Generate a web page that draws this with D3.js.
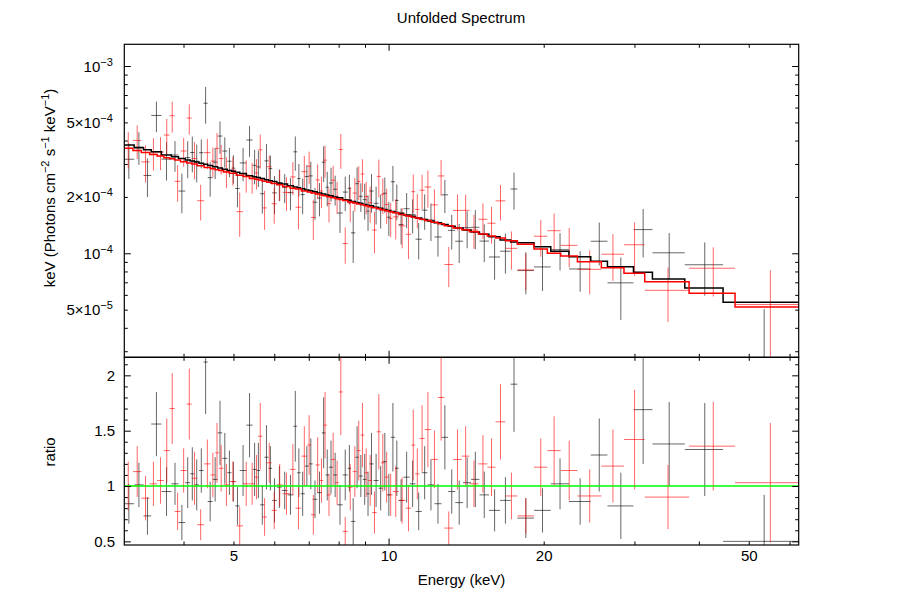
<!DOCTYPE html>
<html>
<head>
<meta charset="utf-8">
<script src="https://cdn.jsdelivr.net/npm/d3@7"></script>
<style>
  body { margin: 0; background: #fff; }
  svg { font-family: "Liberation Sans", Arial, Helvetica, sans-serif; }
</style>
</head>
<body>
<script>
// energy bin edges (keV), ratio data/model, ratio error, model (x 1e-4 keV Photons cm^-2 s^-1 keV^-1)
var blackEdges = [3.058, 3.208, 3.346, 3.463, 3.625, 3.790, 3.911, 4.030, 4.121, 4.199,
    4.287, 4.374, 4.456, 4.556, 4.659, 4.757, 4.864, 4.957, 5.039, 5.142,
    5.297, 5.448, 5.543, 5.635, 5.741, 5.849, 5.945, 6.070, 6.207, 6.367,
    6.535, 6.647, 6.748, 6.876, 7.005, 7.125, 7.270, 7.417, 7.546, 7.660,
    7.803, 7.949, 8.147, 8.331, 8.457, 8.617, 8.759, 8.910, 9.065, 9.180,
    9.352, 9.563, 9.742, 9.924, 10.10, 10.29, 10.46, 10.69, 10.99, 11.28,
    11.60, 11.90, 12.27, 12.67, 13.05, 13.47, 13.95, 14.46, 15.01, 15.66,
    16.46, 17.25, 17.78, 19.15, 20.64, 22.39, 24.68, 26.59, 29.87, 32.51,
    37.57, 44.58, 62.54];
var blackRatio = [0.84, 1.01, 0.73, 1.56, 0.95, 1.02, 0.67, 1.03, 1.11, 1.01,
    1.14, 2.12, 0.86, 1.06, 1.48, 1.25, 1.12, 1.04, 0.82, 1.14,
    1.55, 1.15, 1.14, 0.83, 1.26, 1.16, 0.87, 0.99, 0.96, 0.92,
    1.54, 1.12, 0.93, 1.18, 1.20, 0.88, 0.94, 1.48, 1.10, 1.17,
    1.10, 0.83, 1.10, 1.16, 0.68, 1.26, 1.09, 1.06, 0.93, 1.20,
    1.05, 0.98, 1.22, 0.92, 1.44, 1.16, 0.87, 1.08, 1.02, 0.77,
    1.12, 1.01, 0.84, 1.44, 0.95, 0.85, 1.03, 1.06, 0.92, 0.78,
    0.87, 1.92, 0.71, 0.78, 1.02, 0.86, 1.28, 0.82, 1.69, 1.38,
    1.33, 0.50];
var blackErr = [0.18, 0.20, 0.17, 0.29, 0.22, 0.19, 0.16, 0.23, 0.24, 0.23,
    0.20, 0.47, 0.18, 0.20, 0.29, 0.23, 0.20, 0.18, 0.17, 0.23,
    0.29, 0.24, 0.25, 0.18, 0.29, 0.20, 0.20, 0.19, 0.17, 0.18,
    0.32, 0.22, 0.20, 0.18, 0.23, 0.17, 0.19, 0.32, 0.23, 0.24,
    0.20, 0.18, 0.23, 0.21, 0.21, 0.28, 0.19, 0.23, 0.20, 0.28,
    0.24, 0.20, 0.26, 0.19, 0.31, 0.25, 0.19, 0.23, 0.21, 0.17,
    0.24, 0.23, 0.18, 0.29, 0.20, 0.20, 0.23, 0.25, 0.21, 0.19,
    0.21, 0.43, 0.18, 0.20, 0.23, 0.21, 0.33, 0.30, 0.49, 0.38,
    0.42, 0.42];
var blackModel = [3.783, 3.660, 3.567, 3.490, 3.350, 3.282, 3.208, 3.148, 3.110, 3.069,
    3.022, 2.985, 2.946, 2.894, 2.856, 2.812, 2.769, 2.740, 2.706, 2.665,
    2.598, 2.564, 2.537, 2.506, 2.473, 2.442, 2.417, 2.373, 2.344, 2.291,
    2.261, 2.237, 2.214, 2.180, 2.158, 2.129, 2.099, 2.071, 2.049, 2.028,
    1.997, 1.977, 1.930, 1.917, 1.891, 1.868, 1.849, 1.824, 1.805, 1.792,
    1.760, 1.739, 1.716, 1.694, 1.673, 1.651, 1.638, 1.601, 1.576, 1.544,
    1.517, 1.489, 1.455, 1.425, 1.396, 1.365, 1.330, 1.299, 1.263, 1.225,
    1.179, 1.148, 1.139, 1.084, 1.025, 0.959, 0.906, 0.848, 0.792, 0.729,
    0.653, 0.547];

var redEdges = [3.058, 3.191, 3.313, 3.438, 3.555, 3.663, 3.760, 3.845, 3.947, 4.058,
    4.150, 4.251, 4.386, 4.513, 4.608, 4.684, 4.782, 4.909, 5.065, 5.218,
    5.369, 5.502, 5.584, 5.689, 5.804, 5.931, 6.066, 6.230, 6.442, 6.598,
    6.773, 6.952, 7.072, 7.216, 7.351, 7.467, 7.590, 7.734, 7.880, 8.010,
    8.147, 8.331, 8.520, 8.679, 8.824, 8.972, 9.125, 9.295, 9.484, 9.662,
    9.829, 10.00, 10.19, 10.46, 10.79, 11.07, 11.26, 11.48, 11.75, 12.09,
    12.46, 12.83, 13.34, 13.87, 14.35, 14.94, 15.55, 16.13, 16.85, 17.78,
    19.15, 20.33, 21.58, 23.25, 25.88, 28.63, 31.41, 38.30, 47.03, 63.10];
var redRatio = [1.00, 1.13, 0.89, 1.02, 1.05, 1.32, 1.70, 0.77, 1.14, 1.74,
    1.07, 0.65, 1.20, 1.10, 1.30, 1.16, 1.01, 1.04, 0.64, 1.02,
    1.02, 1.08, 1.45, 0.72, 1.21, 0.78, 1.01, 0.93, 1.15, 0.80,
    1.27, 1.37, 0.74, 1.19, 1.05, 1.55, 0.92, 1.24, 1.03, 1.85,
    0.59, 0.99, 1.13, 1.32, 1.46, 1.12, 1.05, 0.76, 1.49, 1.21,
    1.08, 0.92, 0.95, 0.87, 0.80, 1.37, 1.11, 1.43, 1.51, 1.24,
    1.80, 0.62, 1.24, 1.27, 1.02, 1.20, 1.17, 1.58, 0.91, 0.73,
    1.17, 1.32, 1.14, 0.91, 1.18, 1.42, 0.90, 1.36, 1.03];
var redErr = [0.22, 0.23, 0.20, 0.20, 0.21, 0.29, 0.32, 0.17, 0.20, 0.32,
    0.24, 0.14, 0.22, 0.20, 0.27, 0.21, 0.19, 0.18, 0.17, 0.20,
    0.19, 0.20, 0.30, 0.17, 0.18, 0.17, 0.19, 0.19, 0.23, 0.19,
    0.27, 0.27, 0.18, 0.25, 0.20, 0.30, 0.19, 0.24, 0.20, 0.39,
    0.13, 0.21, 0.23, 0.27, 0.29, 0.22, 0.23, 0.19, 0.34, 0.26,
    0.23, 0.19, 0.23, 0.21, 0.21, 0.32, 0.23, 0.30, 0.34, 0.26,
    0.39, 0.15, 0.27, 0.27, 0.21, 0.26, 0.26, 0.34, 0.21, 0.16,
    0.26, 0.31, 0.27, 0.24, 0.33, 0.45, 0.29, 0.40, 0.54];
var redModel = [3.634, 3.544, 3.458, 3.374, 3.307, 3.242, 3.194, 3.146, 3.085, 3.031,
    2.995, 2.936, 2.873, 2.827, 2.794, 2.766, 2.718, 2.672, 2.607, 2.568,
    2.510, 2.486, 2.462, 2.426, 2.397, 2.357, 2.326, 2.274, 2.224, 2.202,
    2.148, 2.127, 2.100, 2.071, 2.049, 2.028, 2.004, 1.979, 1.955, 1.936,
    1.911, 1.879, 1.855, 1.833, 1.815, 1.793, 1.774, 1.750, 1.728, 1.707,
    1.688, 1.669, 1.647, 1.612, 1.580, 1.557, 1.545, 1.519, 1.496, 1.463,
    1.438, 1.405, 1.366, 1.335, 1.305, 1.266, 1.237, 1.206, 1.168, 1.117,
    1.054, 1.000, 0.967, 0.902, 0.838, 0.782, 0.705, 0.612, 0.517];

// axis ticks and labels
var energyMajor = [10];
var energyMinor = [4, 5, 6, 7, 8, 9, 20, 30, 40, 50, 60];
var energyLabels = [5, 10, 20, 50];
var fluxMajor = [1e-4, 1e-3];
var fluxMinor = [3e-5, 4e-5, 5e-5, 6e-5, 7e-5, 8e-5, 9e-5, 2e-4, 3e-4, 4e-4, 5e-4, 6e-4, 7e-4, 8e-4, 9e-4];
var fluxLabelValues = [1e-3, 5e-4, 2e-4, 1e-4, 5e-5];
var fluxLabelMant = ["", "5\u00d7", "2\u00d7", "", "5\u00d7"];
var fluxLabelExp = ["\u22123", "\u22124", "\u22124", "\u22124", "\u22125"];
var ratioMajor = [0.5, 1, 1.5, 2];
var ratioMinor = [0.6, 0.7, 0.8, 0.9, 1.1, 1.2, 1.3, 1.4, 1.6, 1.7, 1.8, 1.9, 2.1];

(function () {

    var w = 903;
    var h = 606;
    var left = 124.3, right = 798.7, top = 44.3, mid = 357.3, bottom = 545;
    var fs = 15; // text size

    var svg = d3.select("body").append("svg")
        .attr("width", w)
        .attr("height", h);

    var x = d3.scaleLog().domain([3.07, 62.5]).range([left, right]);
    var yFlux = d3.scaleLog().domain([2.784e-5, 1.306e-3]).range([mid, top]);
    var yRatio = d3.scaleLinear().domain([0.467, 2.163]).range([bottom, mid]);

    function bins(edges, ratio, err, model) {
        return ratio.map(function (r, i) {
            return {
                lo: edges[i], hi: edges[i + 1], c: (edges[i] + edges[i + 1]) / 2,
                r: r, e: err[i], m: model[i] * 1e-4
            };
        });
    }
    var black = bins(blackEdges, blackRatio, blackErr, blackModel);
    var red = bins(redEdges, redRatio, redErr, redModel);

    var defs = svg.append("defs");
    defs.append("clipPath").attr("id", "clipTop").append("rect")
        .attr("x", left).attr("y", top).attr("width", right - left).attr("height", mid - top);
    defs.append("clipPath").attr("id", "clipBot").append("rect")
        .attr("x", left).attr("y", mid).attr("width", right - left).attr("height", bottom - mid);

    var gTop = svg.append("g").attr("clip-path", "url(#clipTop)");
    var gBot = svg.append("g").attr("clip-path", "url(#clipBot)");

    function drawData(g, data, y, val, err, color) {
        var grp = g.append("g").attr("stroke", color).attr("stroke-opacity", 0.6).attr("stroke-width", 1);
        grp.selectAll(null).data(data).enter().append("line")
            .attr("x1", function (d) { return x(d.lo); })
            .attr("x2", function (d) { return x(d.hi); })
            .attr("y1", function (d) { return y(val(d)); })
            .attr("y2", function (d) { return y(val(d)); });
        grp.selectAll(null).data(data).enter().append("line")
            .attr("x1", function (d) { return x(d.c); })
            .attr("x2", function (d) { return x(d.c); })
            .attr("y1", function (d) { return y(Math.max(val(d) - err(d), 1e-7)); })
            .attr("y2", function (d) { return y(val(d) + err(d)); });
    }

    function drawModel(g, data, color) {
        var pts = [];
        data.forEach(function (d) { pts.push([d.lo, d.m]); pts.push([d.hi, d.m]); });
        g.append("path")
            .attr("d", d3.line().x(function (p) { return x(p[0]); }).y(function (p) { return yFlux(p[1]); })(pts))
            .attr("fill", "none")
            .attr("stroke", color)
            .attr("stroke-width", 1.5);
    }

    // top panel: unfolded spectrum = ratio * model
    drawData(gTop, black, yFlux, function (d) { return d.r * d.m; }, function (d) { return d.e * d.m; }, "#000000");
    drawData(gTop, red, yFlux, function (d) { return d.r * d.m; }, function (d) { return d.e * d.m; }, "#ff0000");
    drawModel(gTop, black, "#000000");
    drawModel(gTop, red, "#ff0000");

    // bottom panel: ratio
    drawData(gBot, black, yRatio, function (d) { return d.r; }, function (d) { return d.e; }, "#000000");
    drawData(gBot, red, yRatio, function (d) { return d.r; }, function (d) { return d.e; }, "#ff0000");
    gBot.append("line")
        .attr("x1", left).attr("x2", right)
        .attr("y1", yRatio(1)).attr("y2", yRatio(1))
        .attr("stroke", "#00ff00").attr("stroke-width", 1.5);

    // ticks (all pointing inwards)
    function ticks(makeAxis, values, size, tx, ty) {
        var g = svg.append("g")
            .attr("transform", "translate(" + tx + "," + ty + ")")
            .call(makeAxis().tickValues(values).tickSize(size).tickFormat(""));
        g.select(".domain").remove();
        g.selectAll("line").attr("stroke", "#000").attr("stroke-width", 1);
    }
    var big = -6.5, small = -3.5;
    var xTop = function () { return d3.axisTop(x); };
    var xBottom = function () { return d3.axisBottom(x); };
    [[xTop, top], [xBottom, mid], [xTop, mid], [xBottom, bottom]].forEach(function (a) {
        ticks(a[0], energyMajor, big, 0, a[1]);
        ticks(a[0], energyMinor, small, 0, a[1]);
    });
    var fLeft = function () { return d3.axisLeft(yFlux); };
    var fRight = function () { return d3.axisRight(yFlux); };
    [[fLeft, left], [fRight, right]].forEach(function (a) {
        ticks(a[0], fluxMajor, big, a[1], 0);
        ticks(a[0], fluxMinor, small, a[1], 0);
    });
    var rLeft = function () { return d3.axisLeft(yRatio); };
    var rRight = function () { return d3.axisRight(yRatio); };
    [[rLeft, left], [rRight, right]].forEach(function (a) {
        ticks(a[0], ratioMajor, big, a[1], 0);
        ticks(a[0], ratioMinor, small, a[1], 0);
    });

    // frames
    svg.append("rect").attr("x", left).attr("y", top).attr("width", right - left).attr("height", mid - top)
        .attr("fill", "none").attr("stroke", "#000").attr("stroke-width", 1.2);
    svg.append("rect").attr("x", left).attr("y", mid).attr("width", right - left).attr("height", bottom - mid)
        .attr("fill", "none").attr("stroke", "#000").attr("stroke-width", 1.2);

    // tick labels
    var xl = svg.append("g").attr("transform", "translate(0," + bottom + ")")
        .call(d3.axisBottom(x).tickValues(energyLabels).tickSize(0).tickPadding(5.5).tickFormat(d3.format("d")));
    xl.select(".domain").remove();
    xl.attr("font-family", null).attr("font-size", null);
    xl.selectAll("text").attr("font-size", fs).attr("fill", "#000");

    var rl = svg.append("g").attr("transform", "translate(" + (left - 9.3) + ",0)")
        .call(d3.axisLeft(yRatio).tickValues(ratioMajor).tickSize(0).tickPadding(0).tickFormat(d3.format("")));
    rl.select(".domain").remove();
    rl.attr("font-family", null).attr("font-size", null);
    rl.selectAll("text").attr("font-size", fs).attr("fill", "#000");

    var fl = svg.append("g").attr("transform", "translate(" + (left - 11.5) + ",0)")
        .call(d3.axisLeft(yFlux).tickValues(fluxLabelValues).tickSize(0).tickPadding(0).tickFormat(""));
    fl.select(".domain").remove();
    fl.attr("font-family", null).attr("font-size", null);
    fl.selectAll("text").each(function (d, i) {
        var t = d3.select(this).attr("font-size", fs).attr("fill", "#000")
            .attr("dy", null).attr("y", 5);
        t.text(null);
        t.append("tspan").text(fluxLabelMant[i] + "10");
        t.append("tspan").attr("font-size", 11).attr("dy", -6).text(fluxLabelExp[i]);
    });

    // titles
    svg.append("text").attr("x", 461).attr("y", 23).attr("text-anchor", "middle")
        .attr("font-size", fs).text("Unfolded Spectrum");
    svg.append("text").attr("x", 461.5).attr("y", 585).attr("text-anchor", "middle")
        .attr("font-size", fs).text("Energy (keV)");
    svg.append("text").attr("transform", "translate(54.5,452) rotate(-90)").attr("text-anchor", "middle")
        .attr("font-size", fs).text("ratio");

    var yt = svg.append("text").attr("transform", "translate(54.5,188) rotate(-90)")
        .attr("text-anchor", "middle").attr("font-size", fs);
    var parts = [["keV (Photons cm", 0], ["\u22122", 1], [" s", 0], ["\u22121", 1], [" keV", 0], ["\u22121", 1], [")", 0]];
    var up = false;
    parts.forEach(function (p) {
        var ts = yt.append("tspan").text(p[0]);
        if (p[1]) { ts.attr("font-size", 11).attr("dy", -6); up = true; }
        else if (up) { ts.attr("dy", 6); up = false; }
    });

})();
</script>
</body>
</html>
